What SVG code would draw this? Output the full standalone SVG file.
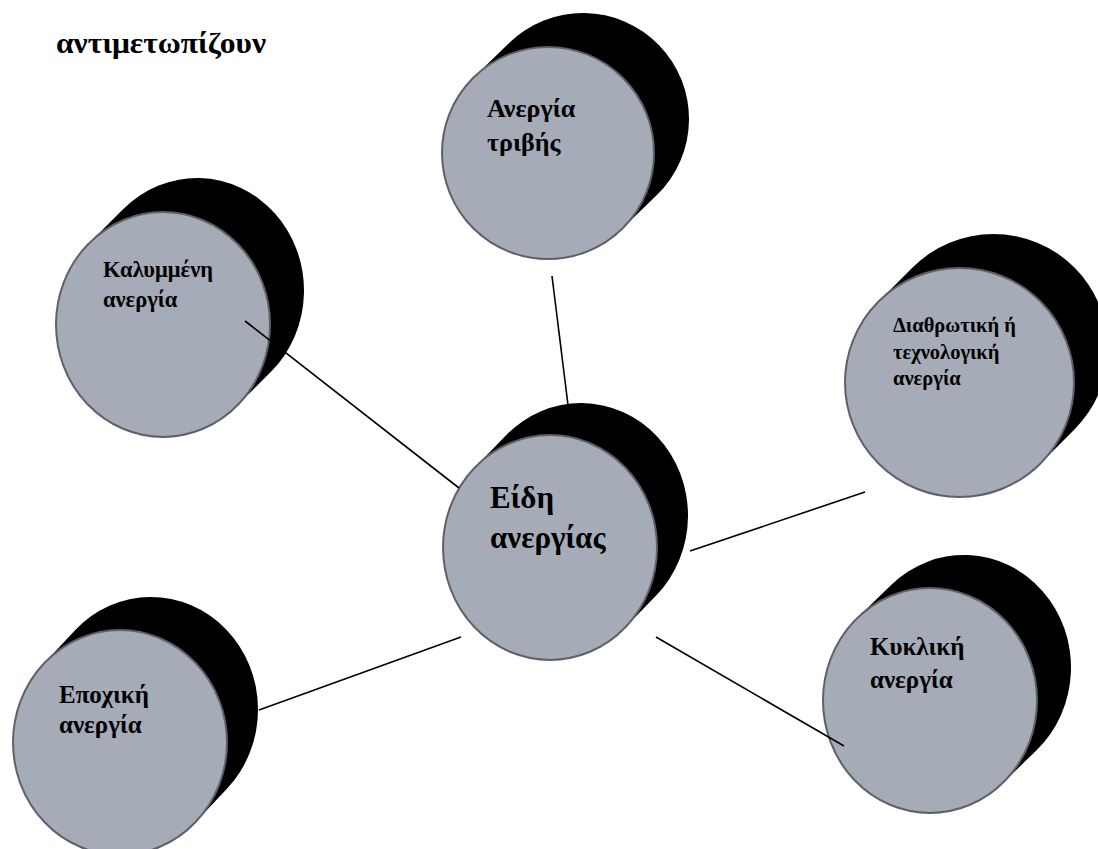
<svg xmlns="http://www.w3.org/2000/svg" width="1098" height="849" viewBox="0 0 1098 849">
<style>
.sh{stroke:#000;stroke-linecap:round;fill:none}
.fr{fill:#a6abb8;stroke:#5f6168;stroke-width:2}
.t{font-family:"Liberation Serif","Times New Roman",serif;font-weight:bold;fill:#000}
.c{stroke:#000;stroke-width:1.6;fill:none}
</style>
<rect width="1098" height="849" fill="#fff"/>
<text class="t" x="56" y="53" font-size="30" textLength="210" lengthAdjust="spacingAndGlyphs">αντιμετωπίζουν</text>

<g id="node-tribis">
<g transform="translate(548,153)">
<line class="sh" x1="0" y1="0" x2="35" y2="-34" stroke-width="212"/>
<circle class="fr" r="106"/>
</g>
<text class="t" font-size="26" x="487" y="117">Ανεργία</text>
<text class="t" font-size="26" x="487" y="151">τριβής</text>
</g>

<g id="node-kalumeni">
<g transform="translate(163,324.5) scale(1,1.0514)">
<line class="sh" x1="0" y1="0" x2="34" y2="-32.3" stroke-width="214"/>
<circle class="fr" r="107"/>
</g>
<text class="t" font-size="22.5" x="103" y="277">Καλυμμένη</text>
<text class="t" font-size="22.5" x="103" y="307">ανεργία</text>
</g>

<g id="node-diathrotiki">
<g transform="translate(959.5,382.5)">
<line class="sh" x1="0" y1="0" x2="34" y2="-34" stroke-width="229"/>
<circle class="fr" r="114.5"/>
</g>
<text class="t" font-size="20.5" x="893" y="332">Διαθρωτική ή</text>
<text class="t" font-size="20.5" x="893" y="359">τεχνολογική</text>
<text class="t" font-size="20.5" x="893" y="385">ανεργία</text>
</g>

<g id="node-eidh">
<g transform="translate(550,547.5) scale(1,1.0514)">
<line class="sh" x1="0" y1="0" x2="31" y2="-30.4" stroke-width="214"/>
<circle class="fr" r="107"/>
</g>
<text class="t" font-size="31" x="490" y="508">Είδη</text>
<text class="t" font-size="31" x="490" y="548">ανεργίας</text>
</g>

<g id="node-epoxiki">
<g transform="translate(120,742.5) scale(1,1.0514)">
<line class="sh" x1="0" y1="0" x2="31" y2="-31.4" stroke-width="214"/>
<circle class="fr" r="107"/>
</g>
<text class="t" font-size="25" x="59" y="703">Εποχική</text>
<text class="t" font-size="25" x="59" y="733">ανεργία</text>
</g>

<g id="node-kukliki">
<g transform="translate(930,700.5) scale(1,1.0514)">
<line class="sh" x1="0" y1="0" x2="34" y2="-31.4" stroke-width="214"/>
<circle class="fr" r="107"/>
</g>
<text class="t" font-size="25" x="870" y="655">Κυκλική</text>
<text class="t" font-size="25" x="870" y="688">ανεργία</text>
</g>

<g id="connectors">
<line class="c" x1="245" y1="321" x2="459" y2="488"/>
<line class="c" x1="552" y1="276" x2="568" y2="405"/>
<line class="c" x1="690" y1="551" x2="865" y2="492"/>
<line class="c" x1="461" y1="637" x2="259" y2="710"/>
<line class="c" x1="656" y1="637" x2="844" y2="746"/>
</g>
</svg>
